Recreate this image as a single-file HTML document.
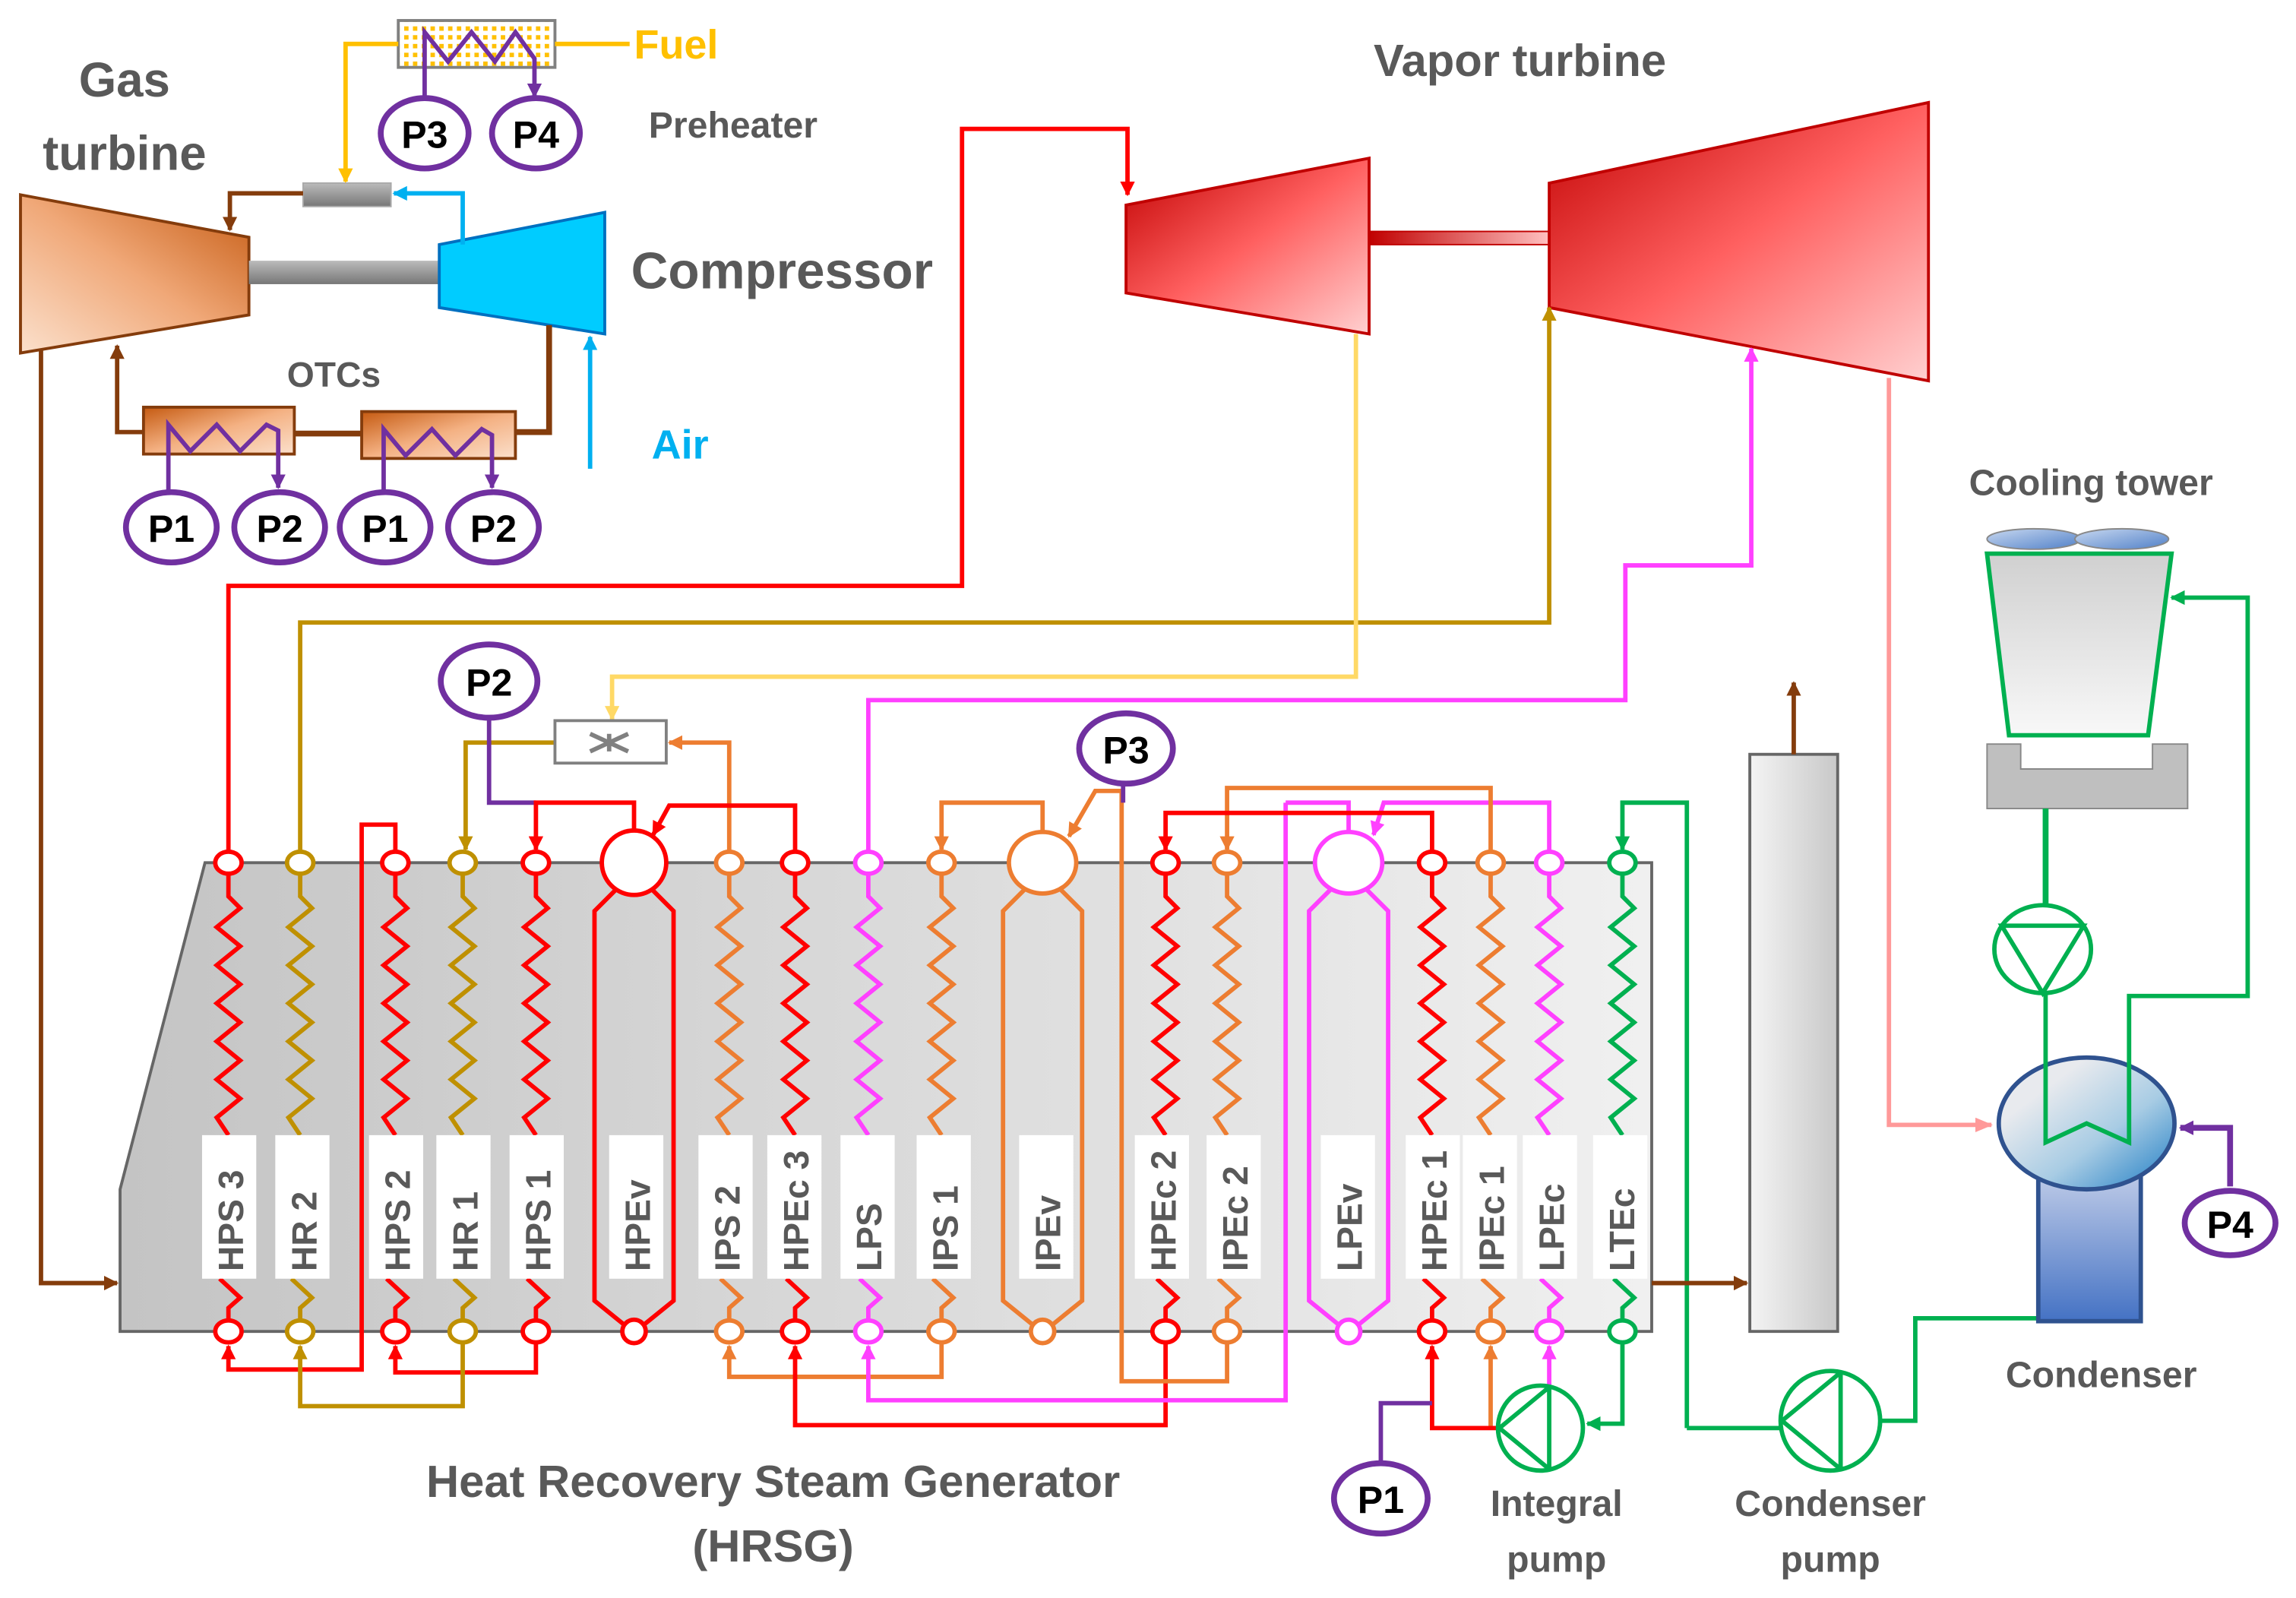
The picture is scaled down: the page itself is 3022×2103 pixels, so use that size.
<!DOCTYPE html>
<html><head><meta charset="utf-8"><style>
html,body{margin:0;padding:0;background:#fff}
svg{display:block}
text{font-family:"Liberation Sans",sans-serif;font-weight:bold}
</style></head><body>
<svg width="3022" height="2103" viewBox="0 0 1568 1091" preserveAspectRatio="none" xmlns="http://www.w3.org/2000/svg">
<defs>
<linearGradient id="hrsg" x1="0" y1="0" x2="1" y2="0"><stop offset="0" stop-color="#c4c4c4"/><stop offset="1" stop-color="#f0f0f0"/></linearGradient>
<linearGradient id="gt" x1="1" y1="0" x2="0" y2="1"><stop offset="0" stop-color="#c55a11"/><stop offset="0.5" stop-color="#f0a878"/><stop offset="1" stop-color="#fbe0cc"/></linearGradient>
<linearGradient id="vt" x1="0" y1="0" x2="1" y2="1"><stop offset="0" stop-color="#c00000"/><stop offset="0.5" stop-color="#ff6060"/><stop offset="1" stop-color="#ffd0d0"/></linearGradient>
<linearGradient id="shaft" x1="0" y1="0" x2="0" y2="1"><stop offset="0" stop-color="#bbb"/><stop offset="1" stop-color="#777"/></linearGradient>
<linearGradient id="rshaft" x1="0" y1="0" x2="1" y2="0"><stop offset="0" stop-color="#c00000"/><stop offset="1" stop-color="#ffc0c0"/></linearGradient>
<linearGradient id="stack" x1="0" y1="0" x2="1" y2="0"><stop offset="0" stop-color="#f4f4f4"/><stop offset="1" stop-color="#c8c8c8"/></linearGradient>
<linearGradient id="tower" x1="0" y1="0" x2="0" y2="1"><stop offset="0" stop-color="#d0d0d0"/><stop offset="1" stop-color="#f8f8f8"/></linearGradient>
<linearGradient id="fan" x1="0" y1="0" x2="1" y2="1"><stop offset="0" stop-color="#c8d8f0"/><stop offset="1" stop-color="#5080c8"/></linearGradient>
<linearGradient id="cond" x1="0.2" y1="0.3" x2="0.9" y2="1"><stop offset="0" stop-color="#e8eaee"/><stop offset="0.5" stop-color="#a8cce4"/><stop offset="1" stop-color="#2e86c8"/></linearGradient>
<linearGradient id="condb" x1="0" y1="0" x2="0" y2="1"><stop offset="0" stop-color="#c0cce8"/><stop offset="1" stop-color="#4472c4"/></linearGradient>
<linearGradient id="hx" x1="0" y1="0" x2="1" y2="1"><stop offset="0" stop-color="#c55a11"/><stop offset="0.5" stop-color="#f4b183"/><stop offset="1" stop-color="#fbe0cc"/></linearGradient>
<pattern id="dots" width="6" height="6" patternUnits="userSpaceOnUse"><rect width="6" height="6" fill="#fff"/><rect x="0" y="0" width="3" height="3" fill="#ffc000"/></pattern>
<marker id="a-r" markerWidth="10" markerHeight="10" refX="9" refY="5" orient="auto" markerUnits="userSpaceOnUse"><path d="M0,0 L10,5 L0,10z" fill="#ff0000"/></marker>
<marker id="a-g" markerWidth="10" markerHeight="10" refX="9" refY="5" orient="auto" markerUnits="userSpaceOnUse"><path d="M0,0 L10,5 L0,10z" fill="#bf9000"/></marker>
<marker id="a-o" markerWidth="10" markerHeight="10" refX="9" refY="5" orient="auto" markerUnits="userSpaceOnUse"><path d="M0,0 L10,5 L0,10z" fill="#ed7d31"/></marker>
<marker id="a-m" markerWidth="10" markerHeight="10" refX="9" refY="5" orient="auto" markerUnits="userSpaceOnUse"><path d="M0,0 L10,5 L0,10z" fill="#ff40ff"/></marker>
<marker id="a-gr" markerWidth="10" markerHeight="10" refX="9" refY="5" orient="auto" markerUnits="userSpaceOnUse"><path d="M0,0 L10,5 L0,10z" fill="#00b050"/></marker>
<marker id="a-p" markerWidth="10" markerHeight="10" refX="9" refY="5" orient="auto" markerUnits="userSpaceOnUse"><path d="M0,0 L10,5 L0,10z" fill="#7030a0"/></marker>
<marker id="a-b" markerWidth="10" markerHeight="10" refX="9" refY="5" orient="auto" markerUnits="userSpaceOnUse"><path d="M0,0 L10,5 L0,10z" fill="#00b0f0"/></marker>
<marker id="a-br" markerWidth="10" markerHeight="10" refX="9" refY="5" orient="auto" markerUnits="userSpaceOnUse"><path d="M0,0 L10,5 L0,10z" fill="#843c0c"/></marker>
<marker id="a-y" markerWidth="10" markerHeight="10" refX="9" refY="5" orient="auto" markerUnits="userSpaceOnUse"><path d="M0,0 L10,5 L0,10z" fill="#ffc000"/></marker>
<marker id="a-ly" markerWidth="10" markerHeight="10" refX="9" refY="5" orient="auto" markerUnits="userSpaceOnUse"><path d="M0,0 L10,5 L0,10z" fill="#ffd966"/></marker>
<marker id="a-s" markerWidth="12" markerHeight="10" refX="11" refY="5" orient="auto" markerUnits="userSpaceOnUse"><path d="M0,0 L12,5 L0,10z" fill="#ff9999"/></marker>
<path id="zz" fill="none" d="M0,597 V612 L8,620 L-8,633 L8,646 L-8,659 L8,672 L-8,685 L8,698 L-8,711 L8,724 L-8,737 L8,750 L-8,763 L0,775 M-6,873 L8,886 L0,893 V901"/>
</defs>

<!-- ===== Gas turbine section ===== -->
<text x="85" y="66" font-size="33" fill="#595959" text-anchor="middle">Gas</text>
<text x="85" y="116" font-size="33" fill="#595959" text-anchor="middle">turbine</text>
<polygon points="14,133 170,162 170,215 14,241" fill="url(#gt)" stroke="#843c0c" stroke-width="2"/>
<rect x="170" y="178" width="131" height="16" fill="url(#shaft)"/>
<polygon points="300,167 413,145 413,228 300,210" fill="#00ccff" stroke="#0070c0" stroke-width="2"/>
<text x="431" y="197" font-size="35" fill="#595959">Compressor</text>
<rect x="207" y="125" width="60" height="16" fill="url(#shaft)" stroke="#aaa" stroke-width="1"/>
<polyline points="207,132 157,132 157,157" fill="none" stroke="#843c0c" stroke-width="3" marker-end="url(#a-br)"/>
<polyline points="316,167 316,132 269,132" fill="none" stroke="#00b0f0" stroke-width="3" marker-end="url(#a-b)"/>
<!-- preheater -->
<rect x="272" y="14" width="107" height="32" fill="url(#dots)" stroke="#808080" stroke-width="2"/>
<polyline points="379,30 430,30" fill="none" stroke="#ffc000" stroke-width="3"/>
<text x="433" y="40" font-size="28" fill="#ffc000">Fuel</text>
<polyline points="272,30 236,30 236,124" fill="none" stroke="#ffc000" stroke-width="3" marker-end="url(#a-y)"/>
<polyline points="290,70 290,22 306,42 322,22 338,42 352,22 365,40 365,66" fill="none" stroke="#7030a0" stroke-width="3" marker-end="url(#a-p)"/>
<ellipse cx="290" cy="91" rx="30" ry="24" fill="#fff" stroke="#7030a0" stroke-width="4"/>
<text x="290" y="101" font-size="26" text-anchor="middle">P3</text>
<ellipse cx="366" cy="91" rx="30" ry="24" fill="#fff" stroke="#7030a0" stroke-width="4"/>
<text x="366" y="101" font-size="26" text-anchor="middle">P4</text>
<text x="443" y="94" font-size="25" fill="#595959">Preheater</text>
<!-- air -->
<polyline points="403,320 403,230" fill="none" stroke="#00b0f0" stroke-width="3" marker-end="url(#a-b)"/>
<text x="445" y="313" font-size="28" fill="#00b0f0">Air</text>
<!-- OTCs -->
<text x="228" y="264" font-size="24" fill="#595959" text-anchor="middle">OTCs</text>
<polyline points="375,222 375,295 352,295" fill="none" stroke="#843c0c" stroke-width="4"/>
<line x1="201" y1="296" x2="247" y2="296" stroke="#843c0c" stroke-width="4"/>
<polyline points="98,295 80,295 80,236" fill="none" stroke="#843c0c" stroke-width="3" marker-end="url(#a-br)"/>
<rect x="98" y="278" width="103" height="32" fill="url(#hx)" stroke="#843c0c" stroke-width="2"/>
<rect x="247" y="281" width="105" height="32" fill="url(#hx)" stroke="#843c0c" stroke-width="2"/>
<polyline points="115,338 115,290 130,308 148,290 164,308 182,290 190,294 190,333" fill="none" stroke="#7030a0" stroke-width="3" marker-end="url(#a-p)"/>
<polyline points="262,338 262,293 277,311 295,293 311,311 329,293 336,297 336,333" fill="none" stroke="#7030a0" stroke-width="3" marker-end="url(#a-p)"/>
<ellipse cx="117" cy="360" rx="31" ry="24" fill="#fff" stroke="#7030a0" stroke-width="4"/><text x="117" y="370" font-size="26" text-anchor="middle">P1</text>
<ellipse cx="191" cy="360" rx="31" ry="24" fill="#fff" stroke="#7030a0" stroke-width="4"/><text x="191" y="370" font-size="26" text-anchor="middle">P2</text>
<ellipse cx="263" cy="360" rx="31" ry="24" fill="#fff" stroke="#7030a0" stroke-width="4"/><text x="263" y="370" font-size="26" text-anchor="middle">P1</text>
<ellipse cx="337" cy="360" rx="31" ry="24" fill="#fff" stroke="#7030a0" stroke-width="4"/><text x="337" y="370" font-size="26" text-anchor="middle">P2</text>
<polyline points="28,238 28,876 80,876" fill="none" stroke="#843c0c" stroke-width="3" marker-end="url(#a-br)"/>

<!-- ===== Vapor turbine ===== -->
<text x="1038" y="52" font-size="31" fill="#595959" text-anchor="middle">Vapor turbine</text>
<polygon points="769,140 935,108 935,228 769,200" fill="url(#vt)" stroke="#c00000" stroke-width="2"/>
<rect x="935" y="158" width="123" height="9" fill="url(#rshaft)" stroke="#c00000" stroke-width="1"/>
<polygon points="1058,125 1317,70 1317,260 1058,210" fill="url(#vt)" stroke="#c00000" stroke-width="2"/>

<!-- long connectors -->
<polyline points="156,582 156,400 657,400 657,88 770,88 770,133" fill="none" stroke="#ff0000" stroke-width="3" marker-end="url(#a-r)"/>
<polyline points="205,582 205,425 1058,425 1058,210" fill="none" stroke="#bf9000" stroke-width="3" marker-end="url(#a-g)"/>
<polyline points="926,228 926,462 418,462 418,491" fill="none" stroke="#ffd966" stroke-width="3" marker-end="url(#a-ly)"/>
<polyline points="593,582 593,478 1110,478 1110,386 1196,386 1196,238" fill="none" stroke="#ff40ff" stroke-width="3" marker-end="url(#a-m)"/>
<polyline points="1290,258 1290,768 1360,768" fill="none" stroke="#ff9999" stroke-width="3" marker-end="url(#a-s)"/>

<!-- ===== HRSG ===== -->
<polygon points="140,589 1128,589 1128,909 82,909 82,812" fill="url(#hrsg)" stroke="#666" stroke-width="2"/>

<!-- mixer -->
<polyline points="379,507 318,507 318,580" fill="none" stroke="#bf9000" stroke-width="3" marker-end="url(#a-g)"/>
<polyline points="498,582 498,507 457,507" fill="none" stroke="#ed7d31" stroke-width="3" marker-end="url(#a-o)"/>
<rect x="379" y="492" width="76" height="29" fill="#fff" stroke="#808080" stroke-width="2"/>
<path d="M403,501 L429,513 M403,513 L429,501 M416,501 V513" stroke="#808080" stroke-width="3" fill="none"/>
<!-- P2 -->
<ellipse cx="334" cy="465" rx="33" ry="25" fill="#fff" stroke="#7030a0" stroke-width="4"/><text x="334" y="475" font-size="26" text-anchor="middle">P2</text>
<polyline points="334,490 334,548 366,548" fill="none" stroke="#7030a0" stroke-width="3"/>
<polyline points="433,567 433,548 366,548 366,580" fill="none" stroke="#ff0000" stroke-width="3" marker-end="url(#a-r)"/>
<polyline points="543,582 543,550 457,550 446,570" fill="none" stroke="#ff0000" stroke-width="3" marker-end="url(#a-r)"/>
<polyline points="270,582 270,563 247,563 247,935 156,935 156,919" fill="none" stroke="#ff0000" stroke-width="3" marker-end="url(#a-r)"/>
<polyline points="366,917 366,937 270,937 270,919" fill="none" stroke="#ff0000" stroke-width="3" marker-end="url(#a-r)"/>
<polyline points="316,917 316,960 205,960 205,919" fill="none" stroke="#bf9000" stroke-width="3" marker-end="url(#a-g)"/>
<polyline points="643,917 643,940 498,940 498,919" fill="none" stroke="#ed7d31" stroke-width="3" marker-end="url(#a-o)"/>
<polyline points="796,917 796,973 543,973 543,919" fill="none" stroke="#ff0000" stroke-width="3" marker-end="url(#a-r)"/>
<polyline points="878,548 878,956 593,956 593,919" fill="none" stroke="#ff40ff" stroke-width="3" marker-end="url(#a-m)"/>
<polyline points="878,548 921,548 921,567" fill="none" stroke="#ff40ff" stroke-width="3"/>
<polyline points="1058,582 1058,548 945,548 938,570" fill="none" stroke="#ff40ff" stroke-width="3" marker-end="url(#a-m)"/>
<polyline points="1018,582 1018,538 838,538 838,580" fill="none" stroke="#ed7d31" stroke-width="3" marker-end="url(#a-o)"/>
<polyline points="978,582 978,555 796,555 796,580" fill="none" stroke="#ff0000" stroke-width="3" marker-end="url(#a-r)"/>
<polyline points="712,567 712,548 643,548 643,580" fill="none" stroke="#ed7d31" stroke-width="3" marker-end="url(#a-o)"/>
<polyline points="838,917 838,943 766,943 766,540 748,540 730,571" fill="none" stroke="#ed7d31" stroke-width="3" marker-end="url(#a-o)"/>
<ellipse cx="769" cy="511" rx="32" ry="24" fill="#fff" stroke="#7030a0" stroke-width="4"/><text x="769" y="521" font-size="26" text-anchor="middle">P3</text>
<line x1="767" y1="535" x2="767" y2="548" stroke="#7030a0" stroke-width="3"/>
<!-- green LTEc -->
<polyline points="1152,975 1152,548 1108,548 1108,580" fill="none" stroke="#00b050" stroke-width="3" marker-end="url(#a-gr)"/>
<polyline points="1152,975 1217,975" fill="none" stroke="#00b050" stroke-width="3"/>
<polyline points="1108,917 1108,972 1084,972" fill="none" stroke="#00b050" stroke-width="3" marker-end="url(#a-gr)"/>
<polyline points="1283,970 1308,970 1308,900 1392,900" fill="none" stroke="#00b050" stroke-width="3"/>
<!-- pump outputs -->
<polyline points="1058,948 1058,919" fill="none" stroke="#ff40ff" stroke-width="3" marker-end="url(#a-m)"/>
<polyline points="1018,975 1018,919" fill="none" stroke="#ed7d31" stroke-width="3" marker-end="url(#a-o)"/>
<polyline points="1024,975 978,975 978,919" fill="none" stroke="#ff0000" stroke-width="3" marker-end="url(#a-r)"/>
<polyline points="943,999 943,958 978,958" fill="none" stroke="#7030a0" stroke-width="3"/>
<ellipse cx="943" cy="1023" rx="32" ry="24" fill="#fff" stroke="#7030a0" stroke-width="4"/><text x="943" y="1033" font-size="26" text-anchor="middle">P1</text>

<!-- drums -->
<g fill="none" stroke-width="3">
<path d="M421,607 L406,622 V888 L427,905 M445,607 L460,622 V888 L439,905" stroke="#ff0000"/>
<path d="M700,607 L685,622 V888 L706,905 M724,607 L739,622 V888 L718,905" stroke="#ed7d31"/>
<path d="M909,607 L894,622 V888 L915,905 M933,607 L948,622 V888 L927,905" stroke="#ff40ff"/>
</g>
<g stroke-width="3" fill="#fff">
<circle cx="433" cy="589" r="22" stroke="#ff0000"/><circle cx="433" cy="909" r="8" stroke="#ff0000"/>
<ellipse cx="712" cy="589" rx="23" ry="21" stroke="#ed7d31"/><circle cx="712" cy="909" r="8" stroke="#ed7d31"/>
<ellipse cx="921" cy="589" rx="23" ry="21" stroke="#ff40ff"/><circle cx="921" cy="909" r="8" stroke="#ff40ff"/>
</g>

<!-- coils -->
<g stroke-width="3">
<use href="#zz" x="156" stroke="#ff0000"/>
<use href="#zz" x="205" stroke="#bf9000"/>
<use href="#zz" x="270" stroke="#ff0000"/>
<use href="#zz" x="316" stroke="#bf9000"/>
<use href="#zz" x="366" stroke="#ff0000"/>
<use href="#zz" x="498" stroke="#ed7d31"/>
<use href="#zz" x="543" stroke="#ff0000"/>
<use href="#zz" x="593" stroke="#ff40ff"/>
<use href="#zz" x="643" stroke="#ed7d31"/>
<use href="#zz" x="796" stroke="#ff0000"/>
<use href="#zz" x="838" stroke="#ed7d31"/>
<use href="#zz" x="978" stroke="#ff0000"/>
<use href="#zz" x="1018" stroke="#ed7d31"/>
<use href="#zz" x="1058" stroke="#ff40ff"/>
<use href="#zz" x="1108" stroke="#00b050"/>
</g>
<g stroke-width="3" fill="#fff">
<ellipse cx="156" cy="589" rx="9" ry="7.5" stroke="#ff0000"/><ellipse cx="156" cy="909" rx="9" ry="7.5" stroke="#ff0000"/>
<ellipse cx="205" cy="589" rx="9" ry="7.5" stroke="#bf9000"/><ellipse cx="205" cy="909" rx="9" ry="7.5" stroke="#bf9000"/>
<ellipse cx="270" cy="589" rx="9" ry="7.5" stroke="#ff0000"/><ellipse cx="270" cy="909" rx="9" ry="7.5" stroke="#ff0000"/>
<ellipse cx="316" cy="589" rx="9" ry="7.5" stroke="#bf9000"/><ellipse cx="316" cy="909" rx="9" ry="7.5" stroke="#bf9000"/>
<ellipse cx="366" cy="589" rx="9" ry="7.5" stroke="#ff0000"/><ellipse cx="366" cy="909" rx="9" ry="7.5" stroke="#ff0000"/>
<ellipse cx="498" cy="589" rx="9" ry="7.5" stroke="#ed7d31"/><ellipse cx="498" cy="909" rx="9" ry="7.5" stroke="#ed7d31"/>
<ellipse cx="543" cy="589" rx="9" ry="7.5" stroke="#ff0000"/><ellipse cx="543" cy="909" rx="9" ry="7.5" stroke="#ff0000"/>
<ellipse cx="593" cy="589" rx="9" ry="7.5" stroke="#ff40ff"/><ellipse cx="593" cy="909" rx="9" ry="7.5" stroke="#ff40ff"/>
<ellipse cx="643" cy="589" rx="9" ry="7.5" stroke="#ed7d31"/><ellipse cx="643" cy="909" rx="9" ry="7.5" stroke="#ed7d31"/>
<ellipse cx="796" cy="589" rx="9" ry="7.5" stroke="#ff0000"/><ellipse cx="796" cy="909" rx="9" ry="7.5" stroke="#ff0000"/>
<ellipse cx="838" cy="589" rx="9" ry="7.5" stroke="#ed7d31"/><ellipse cx="838" cy="909" rx="9" ry="7.5" stroke="#ed7d31"/>
<ellipse cx="978" cy="589" rx="9" ry="7.5" stroke="#ff0000"/><ellipse cx="978" cy="909" rx="9" ry="7.5" stroke="#ff0000"/>
<ellipse cx="1018" cy="589" rx="9" ry="7.5" stroke="#ed7d31"/><ellipse cx="1018" cy="909" rx="9" ry="7.5" stroke="#ed7d31"/>
<ellipse cx="1058" cy="589" rx="9" ry="7.5" stroke="#ff40ff"/><ellipse cx="1058" cy="909" rx="9" ry="7.5" stroke="#ff40ff"/>
<ellipse cx="1108" cy="589" rx="9" ry="7.5" stroke="#00b050"/><ellipse cx="1108" cy="909" rx="9" ry="7.5" stroke="#00b050"/>
</g>

<!-- labels -->
<g fill="#fff">
<rect x="138" y="775" width="37" height="98"/><rect x="188" y="775" width="37" height="98"/>
<rect x="252" y="775" width="37" height="98"/><rect x="298" y="775" width="37" height="98"/>
<rect x="348" y="775" width="37" height="98"/><rect x="416" y="775" width="37" height="98"/>
<rect x="477" y="775" width="37" height="98"/><rect x="524" y="775" width="37" height="98"/>
<rect x="574" y="775" width="37" height="98"/><rect x="626" y="775" width="37" height="98"/>
<rect x="696" y="775" width="37" height="98"/><rect x="775" y="775" width="37" height="98"/>
<rect x="824" y="775" width="37" height="98"/><rect x="902" y="775" width="37" height="98"/>
<rect x="960" y="775" width="37" height="98"/><rect x="999" y="775" width="37" height="98"/>
<rect x="1040" y="775" width="37" height="98"/><rect x="1088" y="775" width="37" height="98"/>
</g>
<g font-size="24" fill="#595959">
<text transform="translate(166,868) rotate(-90)">HPS 3</text>
<text transform="translate(216,868) rotate(-90)">HR 2</text>
<text transform="translate(280,868) rotate(-90)">HPS 2</text>
<text transform="translate(326,868) rotate(-90)">HR 1</text>
<text transform="translate(376,868) rotate(-90)">HPS 1</text>
<text transform="translate(444,868) rotate(-90)">HPEv</text>
<text transform="translate(505,868) rotate(-90)">IPS 2</text>
<text transform="translate(552,868) rotate(-90)">HPEc 3</text>
<text transform="translate(602,868) rotate(-90)">LPS</text>
<text transform="translate(654,868) rotate(-90)">IPS 1</text>
<text transform="translate(724,868) rotate(-90)">IPEv</text>
<text transform="translate(803,868) rotate(-90)">HPEc 2</text>
<text transform="translate(852,868) rotate(-90)">IPEc 2</text>
<text transform="translate(930,868) rotate(-90)">LPEv</text>
<text transform="translate(988,868) rotate(-90)">HPEc 1</text>
<text transform="translate(1027,868) rotate(-90)">IPEc 1</text>
<text transform="translate(1068,868) rotate(-90)">LPEc</text>
<text transform="translate(1116,868) rotate(-90)">LTEc</text>
</g>

<!-- stack -->
<polyline points="1128,876 1193,876" fill="none" stroke="#843c0c" stroke-width="3" marker-end="url(#a-br)"/>
<rect x="1195" y="515" width="60" height="394" fill="url(#stack)" stroke="#666" stroke-width="2"/>
<polyline points="1225,515 1225,466" fill="none" stroke="#843c0c" stroke-width="3" marker-end="url(#a-br)"/>

<!-- pumps -->
<g fill="#fff" stroke="#00b050" stroke-width="3">
<circle cx="1052" cy="975" r="29"/>
<path d="M1058,947 V1003 M1058,947 L1024,975 L1058,1003" fill="none"/>
<circle cx="1250" cy="970" r="34"/>
<path d="M1257,937 V1003 M1257,937 L1217,970 L1257,1003" fill="none"/>
<ellipse cx="1395" cy="648" rx="33" ry="30"/>
<path d="M1367,632 H1423 L1395,678 Z" fill="none"/>
</g>
<text x="1063" y="1035" font-size="25" fill="#595959" text-anchor="middle">Integral</text>
<text x="1063" y="1073" font-size="25" fill="#595959" text-anchor="middle">pump</text>
<text x="1250" y="1035" font-size="25" fill="#595959" text-anchor="middle">Condenser</text>
<text x="1250" y="1073" font-size="25" fill="#595959" text-anchor="middle">pump</text>
<text x="528" y="1022" font-size="31" fill="#595959" text-anchor="middle">Heat Recovery Steam Generator</text>
<text x="528" y="1066" font-size="31" fill="#595959" text-anchor="middle">(HRSG)</text>

<!-- cooling tower -->
<text x="1428" y="338" font-size="25" fill="#595959" text-anchor="middle">Cooling tower</text>
<ellipse cx="1389" cy="368" rx="32" ry="7" fill="url(#fan)" stroke="#888" stroke-width="1"/>
<ellipse cx="1449" cy="368" rx="32" ry="7" fill="url(#fan)" stroke="#888" stroke-width="1"/>
<polygon points="1357,378 1483,378 1467,502 1372,502" fill="url(#tower)" stroke="#00b050" stroke-width="3"/>
<path d="M1357,508 H1380 V525 H1470 V508 H1494 V552 H1357 Z" fill="#bfbfbf" stroke="#888" stroke-width="1"/>
<polyline points="1397,552 1397,618" fill="none" stroke="#00b050" stroke-width="4"/>
<!-- condenser -->
<rect x="1392" y="800" width="70" height="102" fill="url(#condb)" stroke="#2f528f" stroke-width="3"/>
<ellipse cx="1425" cy="767" rx="60" ry="45" fill="url(#cond)" stroke="#2f528f" stroke-width="3"/>
<polyline points="1397,678 1397,780 1425,767 1454,780 1454,680 1535,680 1535,408 1483,408" fill="none" stroke="#00b050" stroke-width="3" marker-end="url(#a-gr)"/>
<polyline points="1523,810 1523,770 1489,770" fill="none" stroke="#7030a0" stroke-width="4" marker-end="url(#a-p)"/>
<ellipse cx="1523" cy="835" rx="31" ry="22" fill="#fff" stroke="#7030a0" stroke-width="4"/><text x="1523" y="845" font-size="26" text-anchor="middle">P4</text>
<text x="1435" y="947" font-size="25" fill="#595959" text-anchor="middle">Condenser</text>
</svg>
</body></html>
